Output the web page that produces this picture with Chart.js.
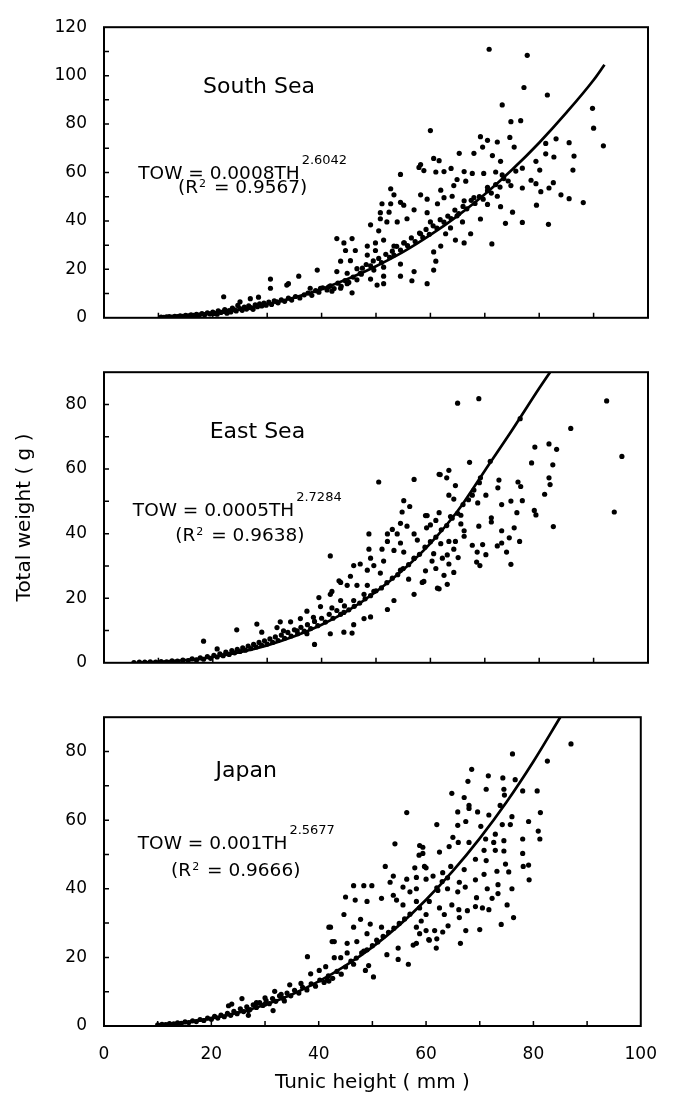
<!DOCTYPE html>
<html>
<head>
<meta charset="utf-8">
<script src="https://cdn.jsdelivr.net/npm/chart.js@4.4.1/dist/chart.umd.min.js"></script>
<style>
  body { margin: 0; background: #fff; }
  #wrap { position: relative; width: 675px; height: 1099px; }
  canvas { position: absolute; left: 0; }
</style>
</head>
<body>
<div id="wrap">
  <canvas id="south" width="675" height="345" style="top:0"></canvas>
  <canvas id="east" width="675" height="345" style="top:345px"></canvas>
  <canvas id="japan" width="675" height="409" style="top:690px"></canvas>
</div>
<script>
const FONT = "'DejaVu Sans', sans-serif";

// South Sea: [tunic height, total weight]
const southPoints = [
  [10.5,0.3],[11,0.2],[11.5,0.4],[12,0.5],[12.5,0.3],[13,0.6],[13.5,0.5],[14,0.8],[14.5,0.6],[15,1.0],[15.5,0.8],[16,1.2],
  [16.5,1.0],[17,1.4],[17.5,1.1],[18,1.7],[18.5,1.3],[19,2.0],[19.5,1.6],[20,2.4],[20.3,1.8],[20.8,1.5],[21,2.9],[21.5,2.2],
  [22,2.6],[22.2,3.4],[22.6,1.9],[23,3.0],[23.3,2.4],[23.6,4.0],[24,3.3],[24.3,2.8],[24.6,5.1],[25,3.8],[25.4,3.1],[25.8,4.4],
  [26.2,3.6],[26.6,4.9],[27,4.2],[27.4,3.5],[27.8,5.3],[28.2,4.6],[28.6,5.8],[29,4.9],[29.4,6.1],[29.8,5.2],[30.3,6.5],[30.8,5.5],
  [31.3,7.0],[32,6.2],[32.6,7.4],[33.2,6.8],[33.9,8.1],[34.5,7.3],[35.2,8.8],[36,8.2],[36.8,9.5],[37.5,10.2],[38.2,9.3],[38.9,11.2],
  [39.5,10.6],[40.2,12.4],[41,11.5],[41.6,13.2],[42.3,12.1],[43,14.3],[43.6,13.0],[44.3,15.4],[45,14.6],[45.8,16.8],[46.5,15.7],[47.3,18.0],
  [22,8.7],[25,6.6],[26.9,7.9],[28.4,8.5],[31.8,6.6],[30.6,16.0],[30.6,12.2],[33.9,14.1],[35.8,17.2],[39.2,19.7],[37.9,12.2],[39.8,12.2],
  [41.3,12.8],[41.9,11.0],[42.8,19.1],[44.7,18.4],[46.5,20.3],[44.7,14.1],[43.5,12.2],[45.6,10.3],[42.8,32.7],[44.1,30.9],[45.6,32.7],
  [44.4,27.8],[46.2,27.8],[43.5,23.4],[45.3,23.6],[33.6,13.5],
  [54.5,59.2],[57.9,62.1],[52.7,53.3],[53.3,50.8],[51.1,47.1],[52.7,47.1],[54.5,47.7],[55.1,46.5],[58.2,50.8],[50.8,43.4],[52.4,43.6],
  [50.8,40.9],[49,38.4],[50.5,35.9],[52,39.6],[53.9,39.6],[55.7,40.9],[57,44.6],[48.4,29.6],[49.9,30.9],[49.9,27.8],[48.4,25.9],
  [51.4,32.1],[53.3,29.6],[55.1,30.9],[53.3,25.9],[54.5,22.2],[51.4,20.9],[49.6,19.7],[51.4,17.2],[49,16.0],[47.1,18.4],[50.2,13.5],
  [51.4,14.1],[54.5,17.2],[57,19.1],[56.6,15.3],[59.4,14.1],[60.6,19.7],[61,23.4],
  [47.5,20.5],[48.2,22.0],[49,21.5],[49.5,23.5],[50.5,24.5],[51,22.8],[51.8,26.2],[52.5,25],[53,27.5],[53.8,29.5],[54.5,28],[55.2,31],
  [55.8,29.8],[56.5,33],[57.2,31.5],[58,35],[58.6,33.2],[59.2,36.5],[59.8,34.5],[60.5,38],[61.2,37],[61.8,40.5],[62.5,39.5],[63.2,42],
  [63.8,41],[64.5,44.5],[65.2,43],[66,46],[66.7,45],[67.5,48.5],[68.2,47.2],[69,50],[69.7,49],[70.5,52.5],[71.2,51.5],[72,55],
  [72.8,54],[73.5,57.5],[74.3,56.5],
  [70.8,110.9],[77.8,108.4],[77.2,95.1],[81.5,92],[73.2,87.9],[74.8,81],[76.6,81.4],[89.8,86.5],[90,78.3],[91.8,71],[60,77.3],
  [69.2,74.8],[70.5,73.3],[72.3,72.6],[74.6,74.5],[65.3,67.9],[68,67.9],[69.6,70.5],[75.4,70.5],[81.2,72],[83.1,73.9],[85.5,72.3],
  [81.2,67.7],[82.7,66.4],[86.4,66.8],[86.2,61],[79.4,64.6],[80.1,61],[60.6,65.8],[61.6,64.9],[58.2,63.3],[58.8,60.8],[61,60.2],
  [62.5,60.4],[63.8,61.7],[66.2,60.4],[67.7,59.6],[71.4,67],[72.9,64.6],[72,60.2],[73.2,59],[75.7,60.6],[76.9,61.8],[74.8,54.6],
  [76.9,53.6],[78.5,56.8],[79.4,55.4],[80.3,52.1],[81.8,53.6],[82.6,55.8],[84,50.8],[85.5,49.2],[88.1,47.6],[79.5,46.5],[76.9,39.4],
  [81.7,38.6],[71.3,30.5],[75.1,43.6],[73.8,39],[72.9,45.9],[70.5,46.8],[69.2,40.8],[67.4,34.7],[66.2,30.9],[64.6,32.1],[62.8,34.7],
  [61.9,29.6],[60.6,27.2],[63.7,37.1],[65.9,39.6],[64.9,42.1],[66.2,48.3],[68,49.6],[64,50.2],[62.5,49.6],[61.3,47.1],[59.4,49],
  [61.9,52.7],[64.3,54.6],[66.5,56.4],[64.9,57.1],[69.8,59.6],[70.5,53.9],[72.3,50.2],[59.4,43.4],[60,39.6],[58.2,34.7]
];
const southCurveX = [10, 15, 20, 25, 30, 35, 40, 45, 50, 55, 60, 65, 70, 75, 80, 85, 90, 92];
const southCurveY = [0.3, 0.9, 2.0, 3.5, 5.6, 8.4, 11.9, 16.2, 21.3, 27.2, 34.2, 42.1, 51.0, 61.1, 72.3, 84.7, 98.2, 104.5];

// East Sea
const eastPoints = [
  [5.5,0.1],[6.5,0.2],[7.5,0.2],[8.5,0.3],[9.5,0.2],[10.5,0.4],[11.5,0.3],[12.5,0.6],[13.5,0.5],[14.5,0.8],[15.5,0.7],[16.2,1.2],
  [17,0.9],[17.7,1.5],[18.3,1.1],[19,1.9],[19.6,1.4],[20.2,2.3],[20.8,1.8],[21.3,2.8],[21.9,2.2],[22.4,3.3],[23,2.6],[23.5,3.8],
  [24,3.1],[24.5,4.2],[25,3.5],[25.5,4.6],[26,3.9],[26.5,5.2],[27,4.4],[27.5,5.7],[28,4.9],[28.5,6.3],[29,5.4],[29.5,6.8],[30,5.8],
  [30.5,7.4],[31,6.3],[31.5,8.0],[32,6.9],[32.6,8.6],[33.2,7.6],[33.8,9.4],[34.4,8.3],[35,10.2],[35.6,9.0],[36.2,11.0],[36.8,9.8],
  [37.4,11.8],[38,10.6],[38.7,12.8],[39.3,11.5],[40,13.8],[40.7,12.6],[41.4,15.0],[42.1,13.8],[42.8,16.2],[43.5,15.0],[44.2,17.6],[45,16.4],
  [18.3,6.7],[24.4,10.2],[28.1,12],[38.7,5.7],[41.6,9],[41.6,33.1],[43.2,25.4],[41.9,22.1],[20.8,4.3],[29,9.5],
  [50.5,56],[57,56.8],[61.6,58.4],[55.1,50.2],[56.2,48.4],[54.8,46.7],[48.7,39.9],[53,41.3],[54.5,43.2],[55.7,42.3],[52.1,39.9],
  [53.9,39.9],[57,39.9],[52.1,37.6],[54.5,37.1],[57.6,38],[59.4,45.6],[60,42.7],[51.1,35.2],[53.3,34.8],[55.1,34.3],[57,32.4],
  [48.7,35.2],[49,32.4],[47.1,30.6],[45.9,30.1],[49.6,30.1],[51.4,31.5],[48.4,28.7],[50.8,27.8],[54.5,28.7],[56,25.9],[58.5,24.9],
  [61.3,23.1],[57,21.2],[53.3,19.3],[52.1,16.5],[45.3,26.8],[43.5,24.9],[44.7,24],[46.5,24],[48.4,24],[49.6,22.1],[47.8,21.2],
  [45.9,19.3],[43.5,19.3],[41.6,21.2],[39.5,20.2],[39.8,17.4],[41.9,17],[44.1,15.6],[47.8,13.7],[49,14.2],[45.9,11.8],[44.1,9.5],
  [45.6,9.2],[38.5,14.1],[37.3,16],[36.1,13.7],[34.3,12.7],[32.4,12.7],[31.8,10.9],[33,9.9],[35.5,9.9],[37.3,9],
  [65,80.4],[68.9,81.8],[92.4,81.1],[85.8,72.6],[95.2,63.9],[93.8,46.7],[76.5,75.6],[71,62.4],[67.2,62.1],[79.2,66.8],[81.8,67.8],
  [83.2,66.1],[78.6,61.9],[82.5,61.3],[81.8,57.3],[82,55.2],[81,52.2],[82.6,42.2],[61.8,58.3],[63.4,59.6],[63,57.3],[64.6,54.9],
  [72.6,56.6],[72.4,54.2],[69.2,57.3],[67.7,51.9],[70.2,51.9],[63.4,51.9],[64.3,50.7],[68.7,49.5],[73.1,49],[74.8,50.1],[76.9,50.2],
  [76.6,54.6],[76.1,56],[75.9,46.5],[79.1,47.2],[79.4,45.8],[59.1,45.6],[61.6,46.5],[61,44.1],[63.7,45.3],[65.6,45.7],[65.6,43],
  [71.2,44.9],[71.2,43.6],[68.9,42.3],[73.1,40.9],[75.4,41.8],[74.5,38.7],[76.4,37.6],[73.1,37.1],[72.3,36.2],[74,34.3],[74.8,30.5],
  [69.6,36.6],[67.7,36.4],[68.6,34.3],[70.2,33.5],[68.5,31.2],[69.1,30.1],[66.2,39.2],[64.6,37.6],[63.4,37.6],[61.9,36.9],[64.3,35.2],
  [63.1,33.4],[65.1,32.6],[60.6,33.8],[60.3,31.5],[62.2,32.4],[63.4,30.6],[61,29.2],[59.1,28.5],[64.3,28],[62.5,27.1],[58.8,25.2],
  [63.1,24.3],[61.6,22.9],[59.3,41.8],[66.2,40.9],
  [46,17.5],[47,18.5],[48,19.8],[49,20.8],[50,22.3],[51,23.2],[52,24.8],[53,26.2],[54,27.3],[55,29.2],[56,30.4],[57,32.3],
  [58,33.6],[59,35.8],[60,37.5],[61,38.9],[62,41.2],[63,42.5],[64,44.8],[65,46.3],[66,49],[67,50.5],[68,53.5],[69,55.8]
];
const eastCurveX = [6, 10, 15, 20, 25, 30, 35, 40, 45, 50, 55, 60, 65, 70, 75, 80, 82];
const eastCurveY = [0.1, 0.3, 0.8, 1.8, 3.3, 5.4, 8.2, 11.8, 16.3, 22.0, 28.8, 37.0, 47.0, 59.5, 72.0, 85.0, 90.0];

// Japan
const japanPoints = [
  [10,0.3],[10.8,0.5],[11.5,0.4],[12.2,0.7],[13,0.6],[13.7,0.9],[14.4,0.8],[15.1,1.2],[15.8,1.0],[16.5,1.5],[17.2,1.3],[17.9,1.9],
  [18.6,1.6],[19.3,2.3],[20,2.0],[20.6,2.8],[21.2,2.3],[21.8,3.2],[22.4,2.7],[23,3.7],[23.6,3.1],[24.2,4.3],[24.8,3.6],[25.4,5.0],
  [26,4.2],[26.6,5.6],[27.2,4.8],[27.8,6.2],[28.4,5.4],[29,6.8],[29.6,6.0],[30.2,7.4],[30.8,6.5],[31.4,8.0],[32,7.2],[32.7,8.8],
  [33.4,8.0],[34.1,9.6],[34.8,8.8],[35.5,10.4],[36.3,9.6],[37,11.3],[37.8,10.5],[38.6,12.3],[39.4,11.6],[40.2,13.4],[41,12.7],
  [41.8,14.6],[42.6,13.9],[43.4,15.9],[44.2,15.1],
  [23.2,5.9],[26.9,3.1],[41.9,28.8],[42.5,24.6],[41.6,13.4],[25.7,8.0],[23.8,6.4],[28.4,6.8],[26.9,4.5],[31.5,4.5],[30,6.4],
  [30,8.2],[33.6,7.3],[31.8,10.1],[33,9.2],[34.6,12],[36.7,12.4],[41.3,17.3],[40.1,16.2],[38.5,15.2],[37.9,20.2],[41.9,13.1],
  [56.4,62.2],[54.2,53.1],[52.4,46.5],[59.4,52.1],[58.7,49.8],[60,46.1],[57.9,46.1],[53.9,43.7],[56.4,42.8],[58.2,43.3],[53.3,41.9],
  [55.7,40.5],[57,39.1],[53.9,38.1],[51.7,37.2],[54.5,36.7],[55.7,35.3],[58.2,36.3],[60,32.5],[58.2,28.8],[60,27.8],[60.6,25],
  [57.6,23.6],[54.8,22.7],[54.8,19.4],[56.7,18],[52.7,20.8],[46.5,40.9],[48.4,40.9],[49.9,40.9],[45,37.6],[46.8,36.7],[49,36.3],
  [44.7,32.5],[47.8,31.1],[49.6,29.7],[46.5,28.8],[42.2,28.8],[51.7,28.8],[49,26.9],[42.9,24.6],[45.3,24.1],[47.1,24.6],[50.8,25],
  [45.3,21.3],[48.4,21.8],[42.9,19.9],[44.1,19.9],[46.5,18],[49.3,17.6],[48.7,16.2],[50.2,14.3],
  [87,82.2],[82.6,77.2],[76.1,79.3],[68.5,74.8],[71.6,72.9],[74.3,72.3],[76.6,71.8],[67.8,71.3],[64.8,67.8],[67.1,66.6],[71.2,69],
  [74.5,69],[74.6,67.3],[78,68.5],[80.7,68.5],[81.3,62.2],[79.1,59.6],[80.9,56.8],[81.2,54.5],[78,54.5],[78,50.3],[78.1,46.5],
  [79.1,46.9],[79.2,42.6],[76.3,31.6],[74,29.6],[70,28.1],[67.4,27.8],[66.4,24.1],[61.9,22.7],[60.5,25.2],[62,25.4],[63.1,27.4],
  [61.6,27.8],[64.1,29.2],[58.8,26.9],[58.2,24.1],[68,63.4],[65.9,62.4],[69.6,62.4],[68,64.3],[71.7,61.5],[73.8,64.3],[76,61],
  [75.7,58.7],[74.2,58.7],[72.9,55.9],[74.5,54],[72.6,53.5],[71.1,54.5],[68,53.5],[66,53.5],[62,58.7],[65.9,58.5],[67.4,59.6],
  [70.2,58.2],[70.8,51.2],[72.9,51.2],[74.5,51],[69.2,48.6],[71.2,48.2],[74.8,47.2],[73.2,45.1],[75.4,44.9],[70.8,44.2],[69.2,42.6],
  [67.1,45.6],[64.6,46.5],[62.5,50.7],[64.3,52.3],[65,55],[59.4,50.3],[58.8,52.6],[59.7,46.5],[61.3,43.7],[63.1,44.7],[66.2,41.9],
  [67.3,40.5],[65.9,39.1],[64,40],[62.2,39.5],[60,42.8],[58.2,40],[71.4,40],[73.4,41.2],[76,40],[73.4,38.6],[72.3,37.2],[69.4,37.4],
  [75.1,35.3],[71.7,33.9],[70.5,34.4],[69.2,34.8],[67.7,33.6],[66.1,33.9],[64.8,35.3],[63.4,32.5],[66.2,31.6],[62.5,34.4],[60.6,36.3],
  [58.8,34.4],[59.1,30.6],
  [45,17.2],[46,18.9],[47,19.8],[48,21.3],[49,22.2],[50,23.4],[51,24.5],[52,26.1],[53,27.3],[54,28.5],[55,29.9],[56,31.2],
  [57,32.6],[62,40.3],[63,42.1],[64,43.2]
];
const japanCurveX = [10, 15, 20, 25, 30, 35, 40, 45, 50, 55, 60, 65, 70, 75, 80, 85];
const japanCurveY = [0.4, 1.0, 2.2, 3.9, 6.2, 9.2, 13.0, 17.6, 23.0, 29.4, 36.8, 45.2, 54.7, 65.3, 77.1, 90.0];

// frame, inward ticks every 10 units, and the panel notes
function panelPlugin(note) {
  return {
    id: "panel",
    afterDatasetsDraw(chart) {
      const { ctx, chartArea: a, scales } = chart;
      const sx = scales.x, sy = scales.y;
      ctx.save();
      ctx.strokeStyle = "#000";
      ctx.lineWidth = 1.5;
      ctx.beginPath();
      for (let v = 10; v < 100; v += 10) {
        const px = sx.getPixelForValue(v);
        ctx.moveTo(px, a.bottom);
        ctx.lineTo(px, a.bottom - 5);
      }
      for (let v = 10; v < sy.max; v += 10) {
        const py = sy.getPixelForValue(v);
        ctx.moveTo(a.left, py);
        ctx.lineTo(a.left + 5, py);
      }
      ctx.stroke();
      ctx.lineWidth = 2;
      ctx.strokeRect(a.left, a.top, a.right - a.left, a.bottom - a.top);

      ctx.fillStyle = "#000";
      ctx.textBaseline = "alphabetic";
      // title
      ctx.font = `22px ${FONT}`;
      ctx.textAlign = "center";
      ctx.fillText(note.title, sx.getPixelForValue(note.titleAt[0]), sy.getPixelForValue(note.titleAt[1]));
      ctx.textAlign = "left";
      // equation
      let x = sx.getPixelForValue(note.eqAt[0]);
      let y = sy.getPixelForValue(note.eqAt[1]);
      ctx.font = `18.5px ${FONT}`;
      ctx.fillText(note.eq, x, y);
      x += ctx.measureText(note.eq).width + 2;
      ctx.font = `13px ${FONT}`;
      ctx.fillText(note.power, x, y - 15);
      // R squared
      x = sx.getPixelForValue(note.r2At[0]);
      y = sy.getPixelForValue(note.r2At[1]);
      ctx.font = `18.5px ${FONT}`;
      ctx.fillText("(R", x, y);
      x += ctx.measureText("(R").width + 1;
      ctx.font = `11px ${FONT}`;
      ctx.fillText("2", x, y - 6);
      x += ctx.measureText("2").width + 2;
      ctx.font = `18.5px ${FONT}`;
      ctx.fillText(" = " + note.r2 + ")", x, y);
      ctx.restore();
    }
  };
}

function makePanel(id, cfg) {
  return new Chart(document.getElementById(id), {
    type: "scatter",
    data: {
      datasets: [
        {
          data: cfg.points.map((p) => ({ x: p[0], y: p[1] })),
          pointRadius: 2.6,
          pointHoverRadius: 2.6,
          backgroundColor: "#000",
          borderWidth: 0,
        },
        {
          data: cfg.curveX.map((x, i) => ({ x: x, y: cfg.curveY[i] })),
          showLine: true,
          borderColor: "#000",
          borderWidth: 2.7,
          pointRadius: 0,
          cubicInterpolationMode: "monotone",
        },
      ],
    },
    options: {
      responsive: false,
      animation: false,
      devicePixelRatio: 1,
      events: [],
      layout: { padding: { top: cfg.top, left: 9, right: 27, bottom: 0 } },
      plugins: { legend: { display: false }, tooltip: { enabled: false } },
      scales: {
        x: {
          type: "linear",
          min: 0,
          max: 100,
          grid: { display: false, drawTicks: false },
          border: { display: false },
          ticks: { display: cfg.showX, stepSize: 20, padding: 18, color: "#000", font: { family: FONT, size: 17 } },
          title: { display: cfg.showX, text: "Tunic height ( mm )", color: "#000", font: { family: FONT, size: 20 } },
          afterFit(s) { s.height = cfg.xHeight; },
        },
        y: {
          type: "linear",
          min: 0,
          max: cfg.yMax,
          grid: { display: false, drawTicks: false },
          border: { display: false },
          ticks: { stepSize: 20, includeBounds: false, padding: 17, color: "#000", font: { family: FONT, size: 17 } },
          title: { display: cfg.showYTitle, text: "Total weight ( g )", color: "#000", font: { family: FONT, size: 20 } },
          afterFit(s) { s.width = 95; },
        },
      },
    },
    plugins: [panelPlugin(cfg.note)],
  });
}

makePanel("south", {
  points: southPoints, curveX: southCurveX, curveY: southCurveY,
  yMax: 120, top: 15, xHeight: 9, showX: false, showYTitle: false,
  note: { title: "South Sea", titleAt: [28.5, 92.7], eq: "TOW = 0.0008TH", power: "2.6042", eqAt: [6.3, 57.2], r2: "0.9567", r2At: [13.6, 51.6] },
});
makePanel("east", {
  points: eastPoints, curveX: eastCurveX, curveY: eastCurveY,
  yMax: 90, top: 17, xHeight: 8, showX: false, showYTitle: true,
  note: { title: "East Sea", titleAt: [28.2, 69.7], eq: "TOW = 0.0005TH", power: "2.7284", eqAt: [5.3, 45.6], r2: "0.9638", r2At: [13.1, 37.7] },
});
makePanel("japan", {
  points: japanPoints, curveX: japanCurveX, curveY: japanCurveY,
  yMax: 90, top: 15, xHeight: 73, showX: true, showYTitle: false,
  note: { title: "Japan", titleAt: [26.5, 72.6], eq: "TOW = 0.001TH", power: "2.5677", eqAt: [6.3, 51.7], r2: "0.9666", r2At: [12.5, 43.7] },
});
</script>
</body>
</html>
